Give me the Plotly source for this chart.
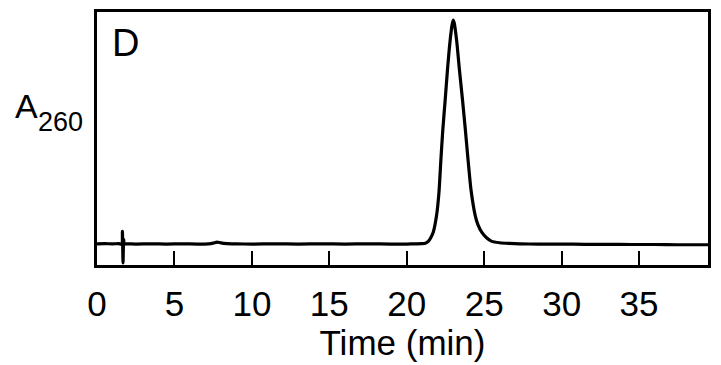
import plotly.graph_objects as go

# Chromatogram trace (time in min, A260 in relative units)
time_min = [0.0, 0.5, 1.0, 1.4, 1.6, 1.64, 1.68, 1.72, 1.76, 1.9, 2.5, 3.5, 4.5,
            5.5, 6.5, 7.2, 7.5, 7.75, 8.0, 8.4, 9.0, 10.0, 11.5, 13.0, 14.5,
            16.0, 17.5, 19.0, 20.0, 20.6, 20.97, 21.2, 21.39, 21.55, 21.72,
            21.93, 22.08, 22.2, 22.32, 22.48, 22.63, 22.8, 22.93, 23.0, 23.07,
            23.22, 23.4, 23.6, 23.78, 23.95, 24.15, 24.41, 24.6, 24.84, 25.15,
            25.49, 26.0, 26.6, 27.3, 28.5, 30.0, 31.5, 33.0, 34.5, 36.0, 37.5,
            39.45]
a260 = [0.001, 0.002, 0.001, 0.002, 0.0, 0.056, -0.084, 0.02, 0.0, 0.001, 0.0,
        0.001, 0.0, 0.001, 0.0, 0.001, 0.004, 0.009, 0.005, 0.002, 0.001,
        0.0, 0.001, 0.0, 0.001, 0.0, 0.001, 0.0, 0.0, 0.001, 0.002, 0.004,
        0.012, 0.028, 0.055, 0.13, 0.23, 0.37, 0.5, 0.64, 0.775, 0.905,
        0.975, 0.995, 0.98, 0.905, 0.775, 0.64, 0.51, 0.38, 0.24, 0.13,
        0.085, 0.053, 0.028, 0.012, 0.006, 0.003, 0.001, 0.0, 0.0, -0.001,
        -0.001, -0.002, -0.002, -0.003, -0.003]

x_ticks = [0, 5, 10, 15, 20, 25, 30, 35]
x_range = [0, 39.45]
y_range = [-0.093, 1.031]

FONT = "Liberation Sans, Arial, sans-serif"

fig = go.Figure()
fig.add_trace(go.Scatter(x=time_min, y=a260, mode="lines",
                         line=dict(color="black", width=3.2, shape="spline", smoothing=0.6),
                         hoverinfo="skip", showlegend=False))

fig.update_layout(
    width=721, height=365,
    margin=dict(l=97, r=13, t=12, b=100),
    paper_bgcolor="white", plot_bgcolor="white",
    font=dict(family=FONT, color="black"),
    xaxis=dict(range=x_range, tickvals=x_ticks, ticktext=[str(v) for v in x_ticks],
               ticks="inside", ticklen=14, tickwidth=2, tickcolor="black",
               showline=True, linewidth=3, linecolor="black", mirror=True,
               showgrid=False, zeroline=False, automargin=False,
               tickfont=dict(size=35, family=FONT, color="black"),
               ticklabelstandoff=6,
               title=dict(text="Time (min)", font=dict(size=35, family=FONT, color="black"),
                          standoff=6)),
    yaxis=dict(range=y_range, showticklabels=False, ticks="",
               showline=True, linewidth=3, linecolor="black", mirror=True,
               showgrid=False, zeroline=False, automargin=False),
    annotations=[
        dict(text="D", x=0.047, y=0.877, xref="paper", yref="paper",
             xanchor="center", yanchor="middle", showarrow=False,
             font=dict(size=38, family=FONT, color="black")),
        dict(text="A", x=-0.1375, y=0.628, xref="paper", yref="paper",
             xanchor="left", yanchor="middle", showarrow=False,
             font=dict(size=34, family=FONT, color="black")),
        dict(text="260", x=-0.1, y=0.565, xref="paper", yref="paper",
             xanchor="left", yanchor="middle", showarrow=False,
             font=dict(size=27, family=FONT, color="black")),
    ],
)

fig.write_html("out.html")
